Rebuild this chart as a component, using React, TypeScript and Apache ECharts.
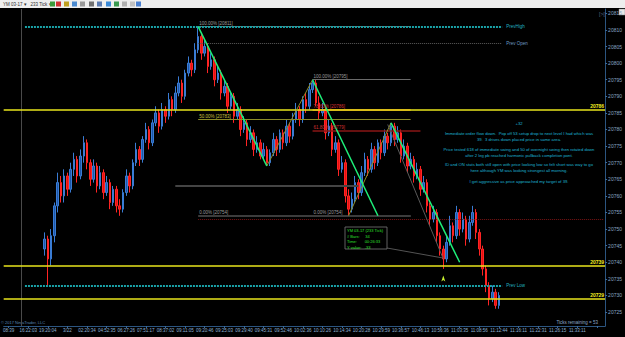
import React, { useEffect, useRef } from "react";
import * as echarts from "echarts";

const W = 625;
const H = 337;
const BAR_COUNT = 184;
const FIRST_BAR = 12;
const FIRST_OPEN = 20744;

const TIME_LABELS = [
  "08:39", "16:22:03", "19:20:04", "3/22", "02:20:34", "04:52:35", "06:27:26", "07:51:17",
  "08:37:02", "09:11:05", "09:20:46", "09:25:03", "09:29:40", "09:45:31", "09:52:46", "10:02:36",
  "10:10:26", "10:14:34", "10:20:28", "10:29:59", "10:36:57", "10:46:13", "10:56:36", "11:03:35",
  "11:08:56", "11:12:44", "11:16:11", "11:22:31", "11:26:15", "11:33:11",
];

const Y_TICKS = [20725, 20730, 20735, 20740, 20745, 20750, 20755, 20760, 20765, 20770, 20775, 20780, 20785, 20790, 20795, 20800, 20805, 20810, 20815];
const Y_MIN = 20720.8;
const Y_MAX = 20816.3;

const CLOSES = [
  20747, 20741, 20748, 20757, 20764, 20760, 20766, 20762, 20768, 20771,
  20766, 20772, 20776, 20770, 20765, 20769, 20763, 20767, 20761, 20764,
  20758, 20762, 20757, 20756, 20761, 20766, 20763, 20770, 20774, 20771,
  20777, 20780, 20776, 20782, 20785, 20781, 20786, 20784, 20789, 20786,
  20791, 20794, 20790, 20797, 20800, 20798, 20804, 20808, 20803, 20805,
  20799, 20801, 20795, 20797, 20791, 20793, 20787, 20790, 20784, 20786,
  20780, 20782, 20777, 20779, 20774, 20776, 20772, 20774, 20770, 20773,
  20777, 20774, 20779, 20776, 20781, 20778, 20783, 20786, 20783, 20789,
  20787, 20792, 20794, 20788, 20785, 20786, 20779, 20781, 20774, 20776,
  20768, 20770, 20760, 20756, 20759, 20764, 20761, 20767, 20771, 20768,
  20774, 20770, 20776, 20773, 20778, 20776, 20781, 20777, 20779, 20772,
  20775, 20769, 20771, 20766, 20768, 20762, 20764, 20757, 20753, 20755,
  20748, 20744, 20741, 20746, 20751, 20748, 20755, 20750, 20753, 20747,
  20752, 20755, 20749, 20744, 20738, 20733, 20729, 20731, 20727, 20730,
];

const HIGHS = [
  20749, 20748, 20750, 20758, 20767, 20766, 20768, 20767, 20770, 20773,
  20772, 20774, 20778, 20777, 20771, 20771, 20770, 20769, 20768, 20766,
  20765, 20763, 20763, 20759, 20762, 20768, 20767, 20771, 20776, 20775,
  20778, 20782, 20781, 20783, 20787, 20786, 20788, 20787, 20791, 20790,
  20793, 20796, 20795, 20798, 20802, 20801, 20806, 20811, 20809, 20807,
  20806, 20803, 20802, 20799, 20798, 20795, 20794, 20791, 20791, 20788,
  20787, 20784, 20783, 20781, 20780, 20778, 20777, 20776, 20775, 20774,
  20779, 20778, 20780, 20780, 20783, 20782, 20785, 20788, 20787, 20790,
  20791, 20794, 20795, 20795, 20790, 20788, 20787, 20783, 20782, 20778,
  20777, 20772, 20771, 20762, 20761, 20766, 20765, 20769, 20773, 20772,
  20776, 20775, 20777, 20777, 20780, 20779, 20782, 20782, 20781, 20780,
  20777, 20776, 20773, 20772, 20770, 20769, 20766, 20765, 20758, 20757,
  20756, 20749, 20745, 20748, 20754, 20752, 20757, 20756, 20755, 20754,
  20754, 20757, 20756, 20750, 20745, 20739, 20734, 20733, 20732, 20731,
];

const LOWS = [
  20742, 20733, 20739, 20746, 20755, 20758, 20758, 20760, 20761, 20766,
  20764, 20765, 20770, 20768, 20763, 20764, 20761, 20762, 20759, 20760,
  20756, 20757, 20755, 20754, 20755, 20760, 20761, 20762, 20769, 20769,
  20770, 20776, 20774, 20775, 20781, 20779, 20780, 20782, 20783, 20784,
  20785, 20790, 20788, 20789, 20796, 20796, 20797, 20803, 20801, 20802,
  20797, 20798, 20793, 20794, 20789, 20790, 20785, 20786, 20782, 20783,
  20778, 20779, 20775, 20776, 20772, 20773, 20771, 20771, 20769, 20769,
  20772, 20772, 20773, 20774, 20775, 20776, 20777, 20782, 20781, 20782,
  20785, 20786, 20791, 20787, 20783, 20784, 20777, 20778, 20772, 20773,
  20766, 20767, 20758, 20754, 20755, 20758, 20759, 20760, 20766, 20766,
  20767, 20768, 20769, 20771, 20772, 20774, 20775, 20775, 20776, 20770,
  20771, 20767, 20768, 20764, 20765, 20760, 20761, 20755, 20751, 20752,
  20746, 20742, 20738, 20740, 20745, 20746, 20747, 20748, 20749, 20745,
  20746, 20751, 20747, 20742, 20736, 20731, 20727, 20728, 20726, 20726,
];

// horizontal reference levels
const YELLOW_LEVELS = [20786, 20739, 20729];
const PREV_HIGH = 20811;
const PREV_OPEN = 20806;
const PREV_LOW = 20733;
const LAST_PRICE = 20730;

const NOTE_LINES = [
  "+32",
  "Immediate order flow down.  Pop off 53 setup drop to next level I had which was",
  "39.  3 drives down placed price in same area.",
  "Price tested 618 of immediate swing and 50 of overnight swing then rotated down",
  "after 2 leg pb reached harmonic pullback completion pont.",
  "ID and ON stats both still open with price looking low so felt short was way to go",
  "here although YM was looking strongest all morning.",
  "I get aggressive as price approached my target of 39.",
];
const NOTE_Y = [123.5, 133.5, 139.5, 149, 155, 164.5, 170.5, 181];

const INFO_LINES = ["YM 03-17 (233 Tick)", "# Bars:     34", "Time:       00:26:33", "Y value:   -33"];

const FONT = "Liberation Sans, Arial, sans-serif";

export default function App() {
  const ref = useRef<HTMLDivElement>(null);

  useEffect(() => {
    if (!ref.current) return;
    const chart = echarts.init(ref.current, null, { renderer: "svg" });

    const categories = Array.from({ length: BAR_COUNT }, (_, i) => String(i));
    const candleData = CLOSES.map((c, k) => {
      const o = k === 0 ? FIRST_OPEN : CLOSES[k - 1];
      return [FIRST_BAR + k, o, c, LOWS[k], HIGHS[k]];
    });
    const isLabel = (i: number) => i % 6 === 1;

    const seg = (x1: number, y1: number, x2: number, y2: number, lineStyle: any, label?: any) => [
      { coord: [x1, y1], lineStyle, label: label || { show: false } },
      { coord: [x2, y2] },
    ];
    const fibLabel = (text: string, color: string) => ({
      show: true,
      position: "insideStartTop",
      formatter: text,
      color,
      fontSize: 4.5,
      fontFamily: FONT,
      distance: 1,
    });

    const markLines: any[] = [
      { xAxis: 5, lineStyle: { color: "#4a4a4a", width: 1, type: "solid" }, label: { show: false } },
      // fib 1
      seg(59, 20811, 124, 20811, { color: "#707070", width: 1, type: "solid" }, fibLabel("100.00% [20811]", "#9a9a9a")),
      seg(59, 20783, 124, 20783, { color: "#8c8c28", width: 1, type: "solid" }, fibLabel("50.00% [20783]", "#c8c040")),
      seg(59, 20754, 124, 20754, { color: "#3c3c3c", width: 2, type: "solid" }, fibLabel("0.00% [20754]", "#9a9a9a")),
      seg(52, 20763, 108, 20763, { color: "#444", width: 2, type: "solid" }),
      // fib 2
      seg(94, 20795, 124, 20795, { color: "#6a6a6a", width: 1, type: "solid" }, fibLabel("100.00% [20795]", "#9a9a9a")),
      seg(94, 20786, 124, 20786, { color: "#e05a10", width: 1.5, type: "solid" }, fibLabel("78.60% [20786]", "#d83030")),
      seg(94, 20779.5, 127, 20779.5, { color: "#8a1616", width: 1.5, type: "solid" }, fibLabel("61.80% [20779]", "#d03030")),
      seg(94, 20754, 124, 20754, { color: "#3c3c3c", width: 2, type: "solid" }, fibLabel("0.00% [20754]", "#9a9a9a")),
      seg(59, 20753, 183, 20753, { color: "#7a1414", width: 1, type: "dotted" }),
      // prev day levels
      seg(59, PREV_OPEN, 152, PREV_OPEN, { color: "#5c5c5c", width: 1, type: "dotted" }, {
        show: true, position: "end", formatter: "Prev Open", color: "#6f9cc4", fontSize: 4.5, fontFamily: FONT, distance: 4,
      }),
      seg(6, PREV_HIGH, 152, PREV_HIGH, { color: "#1aa3a8", width: 2, type: [2, 1] }, {
        show: true, position: "end", formatter: "PrevHigh", color: "#22b4c0", fontSize: 4.5, fontFamily: FONT, distance: 4,
      }),
      seg(6, PREV_LOW, 152, PREV_LOW, { color: "#1aa3a8", width: 2, type: [2, 1] }, {
        show: true, position: "end", formatter: "Prev Low", color: "#22b4c0", fontSize: 4.5, fontFamily: FONT, distance: 4,
      }),
      // yellow key levels
      ...YELLOW_LEVELS.map((v) => ({
        yAxis: v,
        lineStyle: { color: "#e8e41c", width: 1.5, type: "solid" },
        label: {
          show: true, position: "insideEndTop", formatter: String(v), color: "#f2ee20", fontSize: 5,
          fontWeight: "bold", fontFamily: FONT, distance: 1,
        },
      })),
      // swing drawings
      seg(80, 20769, 94, 20795, { color: "#8e8e2a", width: 1, type: "solid" }),
      seg(105, 20754, 118, 20782, { color: "#8e8e2a", width: 1, type: "solid" }),
      seg(117, 20781.5, 134, 20741, { color: "#5a5a5a", width: 1, type: "solid" }),
      seg(59, 20811, 80, 20769, { color: "#1ef07a", width: 1.5, type: "solid" }),
      seg(94, 20795, 114, 20754, { color: "#1ef07a", width: 1.5, type: "solid" }),
      seg(118, 20782, 139, 20740, { color: "#1ef07a", width: 1.5, type: "solid" }),
      // last price marker
      {
        yAxis: LAST_PRICE,
        lineStyle: { opacity: 0 },
        label: {
          show: true, position: "end", formatter: String(LAST_PRICE), color: "#202000", backgroundColor: "#f5a820",
          fontSize: 5, fontFamily: FONT, padding: [1, 2], distance: 2,
        },
      },
    ];

    const notes = NOTE_LINES.map((t, i) => ({
      type: "text",
      x: 519,
      y: NOTE_Y[i],
      silent: true,
      style: { text: t, fill: "#1db6d6", fontSize: 4.2, fontFamily: FONT, align: "center", verticalAlign: "middle" },
    }));

    const info = INFO_LINES.map((t, i) => ({
      type: "text",
      x: 347,
      y: 230.5 + i * 5.5,
      silent: true,
      style: { text: t, fill: "#2ee02e", fontSize: 4, fontFamily: FONT, align: "left", verticalAlign: "middle" },
    }));

    const toolbarIcons = [
      [50, "#3a9a3a"], [56, "#d03030"], [64, "#c0a020"], [72, "#4a8ad0"], [80, "#9a9a9a"],
      [89, "#707070"], [97, "#5a7ab0"], [106, "#3a8ad8"], [114, "#3a9a50"], [122, "#b0b0b0"], [130, "#c0c0c0"], [136, "#4a80d0"],
    ].map(([x, c]) => ({
      type: "rect",
      shape: { x: x as number, y: 1.5, width: 5, height: 5 },
      style: { fill: c as string },
      silent: true,
    }));

    const option: any = {
      animation: false,
      backgroundColor: "#000000",
      grid: { left: 0, right: 17, top: 9, bottom: 11, containLabel: false },
      xAxis: {
        type: "category",
        data: categories,
        boundaryGap: true,
        axisLine: { show: true, lineStyle: { color: "#2c5580", width: 1 } },
        axisTick: { show: true, interval: (i: number) => isLabel(i), alignWithLabel: true, length: 2, lineStyle: { color: "#3a6a9a" } },
        axisLabel: {
          interval: (i: number) => isLabel(i),
          formatter: (_v: string, i: number) => (isLabel(i) ? TIME_LABELS[(i - 1) / 6] || "" : ""),
          fontSize: 4.5,
          color: "#8fb2d4",
          fontFamily: FONT,
          margin: 2,
        },
        splitLine: { show: false },
      },
      yAxis: {
        type: "value",
        position: "right",
        min: Y_MIN,
        max: Y_MAX,
        axisLine: { show: true, lineStyle: { color: "#2c5580", width: 1 } },
        axisTick: { show: true, length: 2, customValues: Y_TICKS, lineStyle: { color: "#3a6a9a" } },
        axisLabel: {
          customValues: Y_TICKS,
          formatter: (v: number) => String(Math.round(v)),
          fontSize: 5,
          color: "#8aa6c4",
          fontFamily: FONT,
          margin: 3,
        },
        splitLine: { show: false },
      },
      series: [
        {
          type: "candlestick",
          data: candleData,
          encode: { x: 0, y: [1, 2, 3, 4] },
          barWidth: 2,
          silent: true,
          itemStyle: {
            color: "#1d56a8",
            color0: "#e41010",
            borderColor: "#3a7cd4",
            borderColor0: "#ff2424",
            borderWidth: 1,
          },
          markLine: {
            silent: true,
            symbol: ["none", "none"],
            precision: 2,
            label: { show: false },
            data: markLines,
          },
          markPoint: {
            silent: true,
            label: { show: false },
            data: [
              { coord: [134, 20736], symbol: "arrow", symbolSize: [3, 6], itemStyle: { color: "#c8f030" } },
            ],
          },
        },
      ],
      graphic: [
        { type: "rect", shape: { x: 0, y: 0, width: W, height: 8 }, style: { fill: "#eeeeee" }, silent: true },
        { type: "text", x: 3, y: 4, silent: true, style: { text: "YM 03-17 ▾   233 Tick ▾", fill: "#303030", fontSize: 4.5, fontFamily: FONT, verticalAlign: "middle" } },
        ...toolbarIcons,
        { type: "rect", shape: { x: 619, y: 9, width: 6, height: 6 }, style: { fill: "#e8e8e8", stroke: "#888", lineWidth: 0.5 }, silent: true },
        { type: "text", x: 599, y: 14, silent: true, style: { text: "[>|]", fill: "#5a6e88", fontSize: 5, fontFamily: FONT, verticalAlign: "middle" } },
        ...notes,
        {
          type: "rect",
          shape: { x: 345, y: 227, width: 42, height: 22 },
          style: { fill: "#000", stroke: "#7a7a7a", lineWidth: 0.8 },
          silent: true,
        },
        ...info,
        { type: "line", shape: { x1: 387, y1: 248, x2: 443, y2: 258 }, style: { stroke: "#6a6a6a", lineWidth: 0.8 }, silent: true },
        { type: "text", x: 1, y: 322.5, silent: true, style: { text: "© 2017 NinjaTrader, LLC", fill: "#5a86b8", fontSize: 4, fontFamily: FONT, verticalAlign: "middle" } },
        { type: "text", x: 598, y: 322, silent: true, style: { text: "Ticks remaining = 53", fill: "#8ea8c8", fontSize: 4.5, fontFamily: FONT, align: "right", verticalAlign: "middle" } },
      ],
    };

    chart.setOption(option);
    return () => chart.dispose();
  }, []);

  return (
    <div
      ref={ref}
      style={{ position: "absolute", left: 0, top: 0, width: W, height: H, background: "#000" }}
    />
  );
}
